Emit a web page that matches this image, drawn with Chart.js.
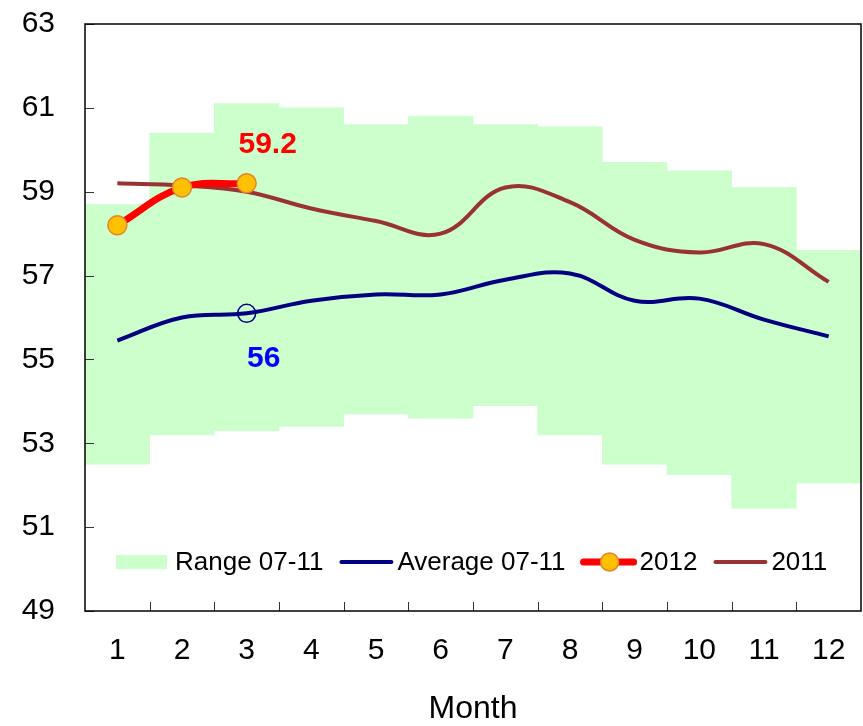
<!DOCTYPE html>
<html lang="en">
<head>
  <meta charset="UTF-8" />
  <script src="https://cdn.jsdelivr.net/npm/chart.js"></script>
  <title>Monthly range, average, 2012 and 2011</title>
  <style>
    html, body { margin: 0; padding: 0; background: #fff; overflow: hidden; }
    canvas { display: block; }
  </style>
</head>
<body>
  <canvas id="grafico" width="863" height="726"></canvas>

  <script>
    // data
    const months = ['1', '2', '3', '4', '5', '6', '7', '8', '9', '10', '11', '12']
    const rangeLow = [52.5, 53.2, 53.3, 53.4, 53.7, 53.6, 53.9, 53.2, 52.5, 52.25, 51.45, 52.05]
    const rangeHigh = [58.7, 60.4, 61.1, 61.0, 60.6, 60.8, 60.6, 60.55, 59.7, 59.5, 59.1, 57.6]
    const average = [55.45, 56.0, 56.1, 56.4, 56.55, 56.55, 56.9, 57.05, 56.4, 56.45, 55.95, 55.55]
    const year2012 = [58.2, 59.1, 59.2, null, null, null, null, null, null, null, null, null]
    const year2011 = [59.2, 59.15, 59.0, 58.6, 58.3, 58.0, 59.1, 58.75, 57.85, 57.55, 57.75, 56.85]
    const yTicks = [49, 51, 53, 55, 57, 59, 61, 63]
    const xTitle = 'Month'

    const FONT = "'Liberation Sans', Arial, sans-serif"
    const rangeData = rangeLow.map((v, i) => [v, rangeHigh[i]])
    const avgRadius = average.map((v, i) => i === 2 ? 9 : 0)

    // frame, inner tick marks, data labels and the legend inside the plot
    const extras = {
      id: 'extras',
      afterDatasetsDraw(chart) {
        const { ctx, chartArea: a, scales: { x, y } } = chart
        ctx.save()
        // tick marks pointing into the plot
        ctx.strokeStyle = '#333'
        ctx.lineWidth = 1
        yTicks.forEach(t => {
          const py = Math.round(y.getPixelForValue(t)) + 0.5
          ctx.beginPath(); ctx.moveTo(a.left, py); ctx.lineTo(a.left + 9, py); ctx.stroke()
        })
        for (let i = 1; i < months.length; i++) {
          const px = Math.round((x.getPixelForValue(i - 1) + x.getPixelForValue(i)) / 2) + 0.5
          ctx.beginPath(); ctx.moveTo(px, a.bottom); ctx.lineTo(px, a.bottom - 9); ctx.stroke()
        }
        // frame
        ctx.strokeStyle = '#000'
        ctx.lineWidth = 1.5
        ctx.strokeRect(a.left, a.top, a.right - a.left, a.bottom - a.top)

        // value labels
        ctx.font = 'bold 30px ' + FONT
        ctx.textAlign = 'center'
        ctx.textBaseline = 'middle'
        const p12 = chart.getDatasetMeta(2).data[2]
        ctx.fillStyle = '#FF0000'
        ctx.fillText(String(year2012[2]), p12.x + 21, p12.y - 39)
        const pAvg = chart.getDatasetMeta(1).data[2]
        ctx.fillStyle = '#0000FF'
        ctx.fillText(String(Math.round(average[2])), pAvg.x + 17, pAvg.y + 45)

        // legend
        const ly = a.bottom - 49
        let lx = a.left + 31
        ctx.font = '26px ' + FONT
        ctx.textAlign = 'left'
        chart.data.datasets.forEach((ds, i) => {
          let tx
          if (i === 0) {
            ctx.fillStyle = ds.backgroundColor
            ctx.fillRect(lx, ly - 7, 51, 14)
            tx = lx + 59
          } else {
            ctx.strokeStyle = ds.borderColor
            ctx.lineWidth = ds.borderWidth
            ctx.lineCap = 'round'
            ctx.beginPath(); ctx.moveTo(lx + 2, ly); ctx.lineTo(lx + 52, ly); ctx.stroke()
            if (i === 2) {
              ctx.beginPath()
              ctx.arc(lx + 28, ly, 9, 0, Math.PI * 2)
              ctx.fillStyle = ds.pointBackgroundColor
              ctx.fill()
              ctx.lineWidth = 1.5
              ctx.strokeStyle = ds.pointBorderColor
              ctx.stroke()
            }
            tx = lx + 58
          }
          ctx.fillStyle = '#000'
          ctx.fillText(ds.label, tx, ly + 1)
          lx = tx + ctx.measureText(ds.label).width + 16
        })
        ctx.restore()
      }
    }

    new Chart(document.getElementById('grafico'), {
      data: {
        labels: months,
        datasets: [
          {
            type: 'bar',
            label: 'Range 07-11',
            data: rangeData,
            backgroundColor: '#CCFFCC',
            borderWidth: 0,
            barPercentage: 1,
            categoryPercentage: 1,
            order: 5
          },
          {
            type: 'line',
            label: 'Average 07-11',
            data: average,
            borderColor: '#000080',
            borderWidth: 4,
            tension: 0.4,
            pointRadius: avgRadius,
            pointBackgroundColor: 'rgba(0,0,0,0)',
            pointBorderColor: '#000080',
            pointBorderWidth: 1.5,
            order: 3
          },
          {
            type: 'line',
            label: '2012',
            data: year2012,
            borderColor: '#FF0000',
            borderWidth: 7,
            tension: 0.4,
            pointRadius: 9.5,
            pointBackgroundColor: '#FFC000',
            pointBorderColor: '#E0852A',
            pointBorderWidth: 1.5,
            order: 1
          },
          {
            type: 'line',
            label: '2011',
            data: year2011,
            borderColor: '#993333',
            borderWidth: 4,
            tension: 0.4,
            pointRadius: 0,
            order: 2
          }
        ]
      },
      options: {
        responsive: false,
        animation: false,
        layout: { autoPadding: false, padding: { top: 24, right: 2, left: 0, bottom: 0 } },
        plugins: { legend: { display: false }, tooltip: { enabled: false } },
        scales: {
          x: {
            offset: true,
            // invisible tick marks give the gap below the axis
            grid: { display: true, drawOnChartArea: false, drawTicks: true, tickLength: 22, tickColor: 'rgba(0,0,0,0)' },
            border: { display: false },
            ticks: { color: '#000', font: { family: FONT, size: 30 }, padding: 0, maxRotation: 0 },
            title: { display: true, text: xTitle, color: '#000', font: { family: FONT, size: 32 }, padding: { top: 0, bottom: -2 } },
            afterFit(s) { s.height = 115 }
          },
          y: {
            min: 49,
            max: 63,
            grid: { display: true, drawOnChartArea: false, drawTicks: true, tickLength: 30, tickColor: 'rgba(0,0,0,0)' },
            border: { display: false },
            afterBuildTicks(s) { s.ticks = yTicks.map(v => ({ value: v })) },
            ticks: { color: '#000', font: { family: FONT, size: 30 }, padding: 0 },
            afterFit(s) { s.width = 85 }
          }
        }
      },
      plugins: [extras]
    })
  </script>
</body>
</html>
